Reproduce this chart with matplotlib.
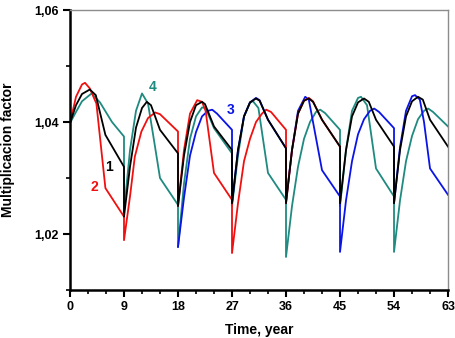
import matplotlib
matplotlib.use("Agg")
import matplotlib.pyplot as plt
from matplotlib.ticker import MultipleLocator, FuncFormatter

plt.rcParams['font.family'] = ['Liberation Sans', 'DejaVu Sans']

# curve 1 (black)
t1 = [0, 1, 2, 3.3, 4.3, 5.9, 9, 9,
      10, 11, 12, 12.8, 13.5, 15, 18, 18,
      19, 20, 21, 22, 22.5, 24, 27, 27,
      28, 29, 30, 31, 31.6, 33, 36, 36,
      37, 38, 39, 39.8, 40.5, 42, 45, 45,
      46, 47, 48, 49, 49.8, 51, 54, 54,
      55, 56, 57, 58, 58.8, 60, 63]
k1 = [1.0398, 1.0430, 1.0450, 1.0458, 1.0448, 1.0377, 1.0320, 1.0231,
      1.0320, 1.0390, 1.0425, 1.0436, 1.0430, 1.0386, 1.0344, 1.0250,
      1.0340, 1.0400, 1.0430, 1.0436, 1.0432, 1.0392, 1.0350, 1.0255,
      1.0350, 1.0410, 1.0435, 1.0442, 1.0438, 1.0404, 1.0353, 1.0255,
      1.0350, 1.0415, 1.0438, 1.0442, 1.0436, 1.0404, 1.0356, 1.0255,
      1.0350, 1.0410, 1.0435, 1.0442, 1.0436, 1.0404, 1.0356, 1.0255,
      1.0350, 1.0410, 1.0437, 1.0445, 1.0440, 1.0404, 1.0356]

# curve 2 (red)
t2 = [0, 1, 2, 2.5, 3.3, 4.4, 5.9, 9, 9,
      10, 10.8, 11.9, 13, 14.2, 15, 18, 18,
      19, 20, 21.2, 22, 22.6, 24, 27, 27,
      28, 29, 30, 31, 32, 32.7, 33.5, 36, 36,
      37, 38, 39, 39.8, 40.5, 42, 45]
k2 = [1.0398, 1.0445, 1.0467, 1.0470, 1.0460, 1.0433, 1.0282, 1.0231, 1.0189,
      1.0267, 1.0338, 1.0383, 1.0407, 1.0417, 1.0414, 1.0383, 1.0250,
      1.0350, 1.0415, 1.0439, 1.0436, 1.0420, 1.0309, 1.0261, 1.0166,
      1.0255, 1.0330, 1.0370, 1.0400, 1.0415, 1.0422, 1.0418, 1.0386, 1.0255,
      1.0350, 1.0415, 1.0438, 1.0443, 1.0437, 1.0404, 1.0356]

# curve 3 (blue)
t3 = [18, 19, 20, 21, 22, 23, 23.7, 24.5, 27, 27,
      28, 29, 30, 31, 31.6, 33, 36, 36,
      37, 38, 39.2, 39.8, 40.5, 42, 45, 45,
      46, 47, 48, 49, 50, 50.7, 51.5, 54, 54,
      55, 56, 57, 57.5, 58.3, 59, 60, 63]
k3 = [1.0177, 1.0265, 1.0340, 1.0382, 1.0410, 1.0420, 1.0422, 1.0415, 1.0386, 1.0255,
      1.0350, 1.0410, 1.0435, 1.0443, 1.0439, 1.0404, 1.0353, 1.0259,
      1.0350, 1.0420, 1.0445, 1.0440, 1.0400, 1.0314, 1.0267, 1.0168,
      1.0260, 1.0330, 1.0378, 1.0405, 1.0420, 1.0424, 1.0418, 1.0389, 1.0255,
      1.0355, 1.0420, 1.0446, 1.0448, 1.0440, 1.0400, 1.0317, 1.0270]

# curve 4 (teal)
t4 = [0, 1, 2, 3.6, 5, 7, 9, 9,
      10, 11, 12, 13, 13.9, 15, 18, 18,
      19, 20, 21, 22, 22.6, 24, 27, 27,
      28, 29, 30, 30.5, 31.4, 33, 36, 36,
      37, 38, 39, 40, 41, 41.7, 42.5, 45, 45,
      46, 47, 48, 48.5, 49.5, 51, 54, 54,
      55, 56, 57, 58, 59, 59.7, 60.5, 63]
k4 = [1.0398, 1.0418, 1.0437, 1.0451, 1.0435, 1.0400, 1.0374, 1.0240,
      1.0350, 1.0420, 1.0451, 1.0433, 1.0374, 1.0300, 1.0252, 1.0177,
      1.0290, 1.0370, 1.0410, 1.0426, 1.0425, 1.0389, 1.0344, 1.0250,
      1.0340, 1.0410, 1.0435, 1.0437, 1.0425, 1.0309, 1.0261, 1.0159,
      1.0250, 1.0320, 1.0370, 1.0400, 1.0418, 1.0422, 1.0416, 1.0386, 1.0250,
      1.0350, 1.0420, 1.0443, 1.0445, 1.0430, 1.0317, 1.0267, 1.0168,
      1.0260, 1.0330, 1.0375, 1.0405, 1.0420, 1.0424, 1.0418, 1.0392]

fig = plt.figure(figsize=(4.56, 3.38), dpi=100)
ax = fig.add_axes([0.1535, 0.142, 0.829, 0.8284])

teal = '#1f8a80'
ax.plot(t4, k4, color=teal, lw=1.3)
ax.plot(t3, k3, color='#0a14e6', lw=1.3)
ax.plot(t2, k2, color='#f01010', lw=1.3)
ax.plot(t1, k1, color='black', lw=1.3)

ax.text(6.5, 1.0320, '1', color='black', fontsize=10, fontweight='bold', ha='center', va='center')
ax.text(4.0, 1.0284, '2', color='#f01010', fontsize=10, fontweight='bold', ha='center', va='center')
ax.text(26.8, 1.0421, '3', color='#0a14e6', fontsize=10, fontweight='bold', ha='center', va='center')
ax.text(13.8, 1.0462, '4', color=teal, fontsize=10, fontweight='bold', ha='center', va='center')

ax.set_xlim(0, 63)
ax.set_ylim(1.01, 1.06)
ax.xaxis.set_major_locator(MultipleLocator(9))
ax.xaxis.set_minor_locator(MultipleLocator(3))
ax.yaxis.set_major_locator(MultipleLocator(0.02))
ax.yaxis.set_minor_locator(MultipleLocator(0.01))
ax.yaxis.set_major_formatter(FuncFormatter(lambda v, p: f"{v:.2f}".replace('.', ',')))

ax.tick_params(which='major', direction='out', length=5, width=1.5, labelsize=9, pad=3)
ax.tick_params(which='minor', direction='out', length=3, width=1.2)
for lab in ax.get_xticklabels() + ax.get_yticklabels():
    lab.set_fontweight('bold')

for s in ['left', 'bottom']:
    ax.spines[s].set_linewidth(1.8)
for s in ['top', 'right']:
    ax.spines[s].set_linewidth(1.0)
    ax.spines[s].set_color('#8c8c8c')

ax.set_xlabel('Time, year', fontsize=10, fontweight='bold', labelpad=7)
ax.set_ylabel('Multiplicacion factor', fontsize=10, fontweight='bold', labelpad=14)

fig.savefig('out.png', dpi=100)
